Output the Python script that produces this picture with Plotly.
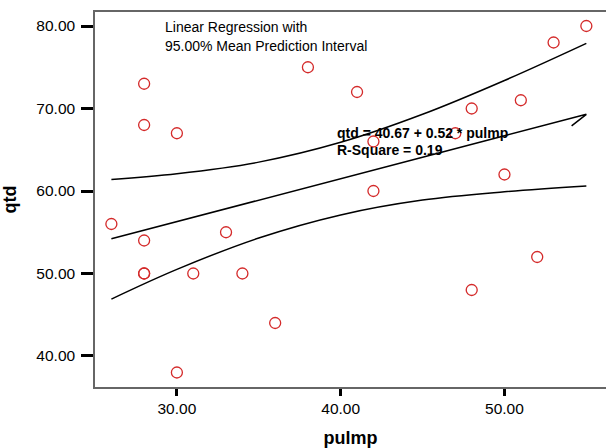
import plotly.graph_objects as go

# observed points
pulmp = [26, 28, 28, 28, 28, 28, 30, 30, 31, 33, 34, 36, 38, 41, 42, 42, 47, 48, 48, 50, 51, 52, 53, 55]
qtd = [56, 73, 68, 54, 50, 50, 67, 38, 50, 55, 50, 44, 75, 72, 66, 60, 67, 70, 48, 62, 71, 52, 78, 80]

# fit line and 95% mean prediction interval
fit_x = [26, 30, 35, 40, 45, 50, 55, 54.1]
fit_y = [54.2, 56.3, 58.9, 61.5, 64.1, 66.7, 69.3, 67.9]
band_x = [26, 30, 35, 40, 45, 50, 55]
upper = [61.4, 62.1, 63.5, 65.9, 69.3, 73.4, 77.9]
lower = [46.9, 50.5, 54.3, 57.1, 58.9, 59.9, 60.6]

fnt = "Liberation Sans, Arial, sans-serif"

fig = go.Figure()
fig.add_trace(go.Scatter(x=band_x, y=upper, mode="lines", line=dict(color="black", width=1.5, shape="spline")))
fig.add_trace(go.Scatter(x=fit_x, y=fit_y, mode="lines", line=dict(color="black", width=1.5)))
fig.add_trace(go.Scatter(x=band_x, y=lower, mode="lines", line=dict(color="black", width=1.5, shape="spline")))
fig.add_trace(go.Scatter(x=pulmp, y=qtd, mode="markers",
                         marker=dict(symbol="circle-open", size=11, color="#d42a2a", line=dict(width=1.3))))

fig.add_annotation(x=29.15, y=79.88, text="Linear Regression with", showarrow=False,
                   xanchor="left", yanchor="middle", font=dict(size=14, color="black", family=fnt))
fig.add_annotation(x=29.15, y=77.52, text="95.00% Mean Prediction Interval", showarrow=False,
                   xanchor="left", yanchor="middle", font=dict(size=14, color="black", family=fnt))
fig.add_annotation(x=39.63, y=67.03, text="<b>qtd = 40.67 + 0.52 * pulmp</b>", showarrow=False,
                   xanchor="left", yanchor="middle", font=dict(size=14, color="black", family=fnt))
fig.add_annotation(x=39.63, y=64.97, text="<b>R-Square = 0.19</b>", showarrow=False,
                   xanchor="left", yanchor="middle", font=dict(size=14, color="black", family=fnt))

fig.update_layout(
    width=606, height=448,
    margin=dict(l=95, r=0, t=12, b=61),
    paper_bgcolor="white", plot_bgcolor="white",
    showlegend=False,
    font=dict(family=fnt, color="black", size=15.5),
    xaxis=dict(range=[25, 56.2], tickvals=[30, 40, 50], ticktext=["30.00", "40.00", "50.00"],
               showgrid=False, zeroline=False, showline=True, linecolor="#666666", linewidth=1.5,
               mirror=True, ticks="outside", ticklen=7, tickwidth=3, tickcolor="black",
               tickfont=dict(size=15.5), automargin=False,
               title=dict(text="<b>pulmp</b>", font=dict(size=18), standoff=16)),
    yaxis=dict(range=[36.24, 81.7], tickvals=[40, 50, 60, 70, 80],
               ticktext=["40.00", "50.00", "60.00", "70.00", "80.00"],
               showgrid=False, zeroline=False, showline=True, linecolor="#666666", linewidth=1.5,
               ticks="outside", ticklen=12, tickwidth=3, tickcolor="black", ticklabelstandoff=3,
               tickfont=dict(size=15.5), automargin=False,
               title=dict(text="<b>qtd</b>", font=dict(size=18), standoff=15)),
)

fig.write_html("out.html", config={"displayModeBar": False},
               post_script="document.body.style.margin='0';")
